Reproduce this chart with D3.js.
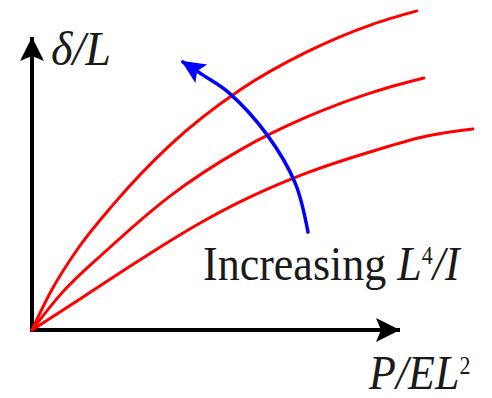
<!DOCTYPE html>
<html lang="en">
<head>
<meta charset="UTF-8">
<title>Deflection sketch</title>
<style>
  body { margin: 0; background: #fff; }
  svg text { font-family: "Times New Roman", "Liberation Serif", serif; fill: #1a1a1a; }
  .curve { fill: none; stroke: #ff0000; stroke-width: 3; stroke-linecap: round; }
  .trend { fill: none; stroke: #0000ff; stroke-width: 3.5; stroke-linecap: round; }
  .axis-line { stroke: #000; stroke-width: 4; }
</style>
</head>
<body>
<div class="chart"></div>
<script src="https://d3js.org/d3.v7.min.js"></script>
<script>
// load-deflection curves (arbitrary units)
var curveTop = [[0,0],[0.49,1.26],[1.22,2.73],[2.2,4.27],[3.75,6.31],[5.65,8.19],[7.47,9.49],[9.27,10.44],[10.46,10.89]];
var curveMid = [[0,0],[0.76,1.19],[2.04,2.73],[3.75,4.57],[5.65,6.14],[7.47,7.27],[9.27,8.12],[10.65,8.6]];
var curveLow = [[0,0],[1.39,1.13],[2.93,2.39],[4.57,3.65],[5.65,4.37],[7.47,5.36],[9.27,6.11],[10.62,6.59],[11.98,6.86]];
// "increasing" arrow path
var trendArrow = [[7.5,3.34],[7.15,5.02],[6.39,6.66],[5.33,8.12],[4.65,8.7],[4.1,9.15]];
var axisExtent = [0, 10];

var width = 492, height = 398;

var svg = d3.select(".chart").append("svg")
    .attr("width", width)
    .attr("height", height);

var x = d3.scaleLinear().domain(axisExtent).range([32, 400]);
var y = d3.scaleLinear().domain(axisExtent).range([330, 37]);

var defs = svg.append("defs");

defs.append("marker")
    .attr("id", "axis-head")
    .attr("viewBox", "0 -12 24 24")
    .attr("refX", 24).attr("refY", 0)
    .attr("markerWidth", 24).attr("markerHeight", 24)
    .attr("markerUnits", "userSpaceOnUse")
    .attr("orient", "auto")
    .append("path")
    .attr("d", "M0,-12L24,0L0,12L5,0Z")
    .attr("fill", "#000");

defs.append("marker")
    .attr("id", "trend-head")
    .attr("viewBox", "0 -12 24 24")
    .attr("refX", 22).attr("refY", 0)
    .attr("markerWidth", 24).attr("markerHeight", 24)
    .attr("markerUnits", "userSpaceOnUse")
    .attr("orient", "auto")
    .append("path")
    .attr("d", "M0,-11L24,0L0,11L5,0Z")
    .attr("fill", "#0000ff");

// axes
svg.append("line")
    .attr("class", "axis-line")
    .attr("x1", x(0)).attr("y1", y(0) + 2)
    .attr("x2", x(0)).attr("y2", y(axisExtent[1]))
    .attr("marker-end", "url(#axis-head)");

svg.append("line")
    .attr("class", "axis-line")
    .attr("x1", x(0) - 2).attr("y1", y(0))
    .attr("x2", x(axisExtent[1])).attr("y2", y(0))
    .attr("marker-end", "url(#axis-head)");

var line = d3.line()
    .x(function(d) { return x(d[0]); })
    .y(function(d) { return y(d[1]); })
    .curve(d3.curveMonotoneX);

svg.selectAll(".curve")
    .data([curveTop, curveMid, curveLow])
    .enter()
    .append("path")
    .attr("class", "curve")
    .attr("d", line);

var trendLine = d3.line()
    .x(function(d) { return x(d[0]); })
    .y(function(d) { return y(d[1]); })
    .curve(d3.curveCatmullRom);

svg.append("path")
    .datum(trendArrow)
    .attr("class", "trend")
    .attr("d", trendLine)
    .attr("marker-end", "url(#trend-head)");

// labels (the source font is a bit taller than it is wide)
svg.append("text")
    .attr("transform", "translate(51,65) scale(1.05,1.1)")
    .attr("font-size", 44)
    .attr("font-style", "italic")
    .text("δ/L");

var inc = svg.append("text")
    .attr("transform", "translate(203,280) scale(1,1.1)")
    .attr("font-size", 44);
inc.append("tspan").text("Increasing ");
inc.append("tspan").attr("font-style", "italic").text("L");
inc.append("tspan").attr("font-size", 22).attr("dy", -15).text("4");
inc.append("tspan").attr("font-style", "italic").attr("dy", 15).text("/I");

var px = svg.append("text")
    .attr("transform", "translate(369,389) scale(1,1.1)")
    .attr("font-size", 44)
    .attr("font-style", "italic");
px.append("tspan").text("P/EL");
px.append("tspan").attr("font-size", 22).attr("font-style", "normal").attr("dy", -14).text("2");
</script>
</body>
</html>
